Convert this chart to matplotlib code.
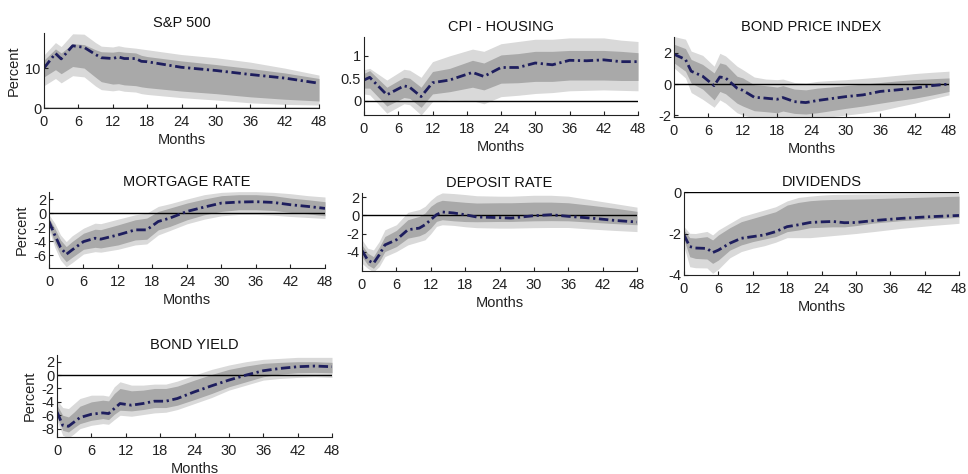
import matplotlib
matplotlib.use("Agg")
import matplotlib.pyplot as plt
from matplotlib.ticker import FormatStrFormatter

plt.rcParams['font.family'] = ['Liberation Sans', 'DejaVu Sans']
plt.rcParams['font.size'] = 10.5

# ==========================================
# DATA
# median response + 68% (inner) and 90% (outer) bands
# ==========================================
SP_X = [0, 2, 3, 5, 7, 9, 10, 12, 13, 14, 16, 17, 18, 24, 30, 36, 42, 48]
SP_MED = [10, 13.7, 12.3, 15.6, 15.2, 13.4, 12.6, 12.4, 12.8, 12.4, 12.4, 11.7, 11.6, 10.2, 9.4, 8.4, 7.5, 6.2]
SP_IN_HI = [12, 14.8, 13.8, 16.1, 15.9, 14.6, 14.1, 14, 14.2, 14, 13.8, 13.2, 12.9, 11.8, 10.9, 9.9, 8.8, 7.4]
SP_IN_LO = [7.8, 9.6, 8.6, 10.4, 10, 7.7, 6.6, 6, 6.1, 5.8, 5.6, 5.3, 5.1, 4.25, 3.6, 2.8, 2.2, 1.75]
SP_OUT_HI = [13.3, 16.4, 15.4, 18.6, 18.5, 16.4, 15.5, 15.3, 15.6, 15.3, 15, 14.8, 14.6, 13.4, 12.6, 11.5, 10, 8.25]
SP_OUT_LO = [5.6, 7.4, 6.3, 8.1, 7.8, 5.5, 4.6, 4.3, 4.5, 4.2, 4, 3.6, 3.4, 2.6, 2.0, 1.3, 0.9, 0.75]

CPI_X = [0, 1, 4, 7, 8, 10, 12, 15, 19, 21, 24, 27, 30, 33, 36, 39, 42, 45, 48]
CPI_MED = [0.46, 0.52, 0.13, 0.33, 0.30, 0.09, 0.40, 0.46, 0.63, 0.54, 0.74, 0.74, 0.84, 0.80, 0.90, 0.89, 0.91, 0.87, 0.87]
CPI_IN_HI = [0.61, 0.67, 0.30, 0.52, 0.50, 0.30, 0.65, 0.72, 0.90, 0.84, 1.02, 1.05, 1.10, 1.10, 1.12, 1.12, 1.12, 1.10, 1.07]
CPI_IN_LO = [0.28, 0.28, -0.12, 0.07, 0.05, -0.15, 0.15, 0.20, 0.30, 0.24, 0.39, 0.40, 0.43, 0.43, 0.46, 0.46, 0.46, 0.45, 0.45]
CPI_OUT_HI = [0.69, 0.72, 0.46, 0.70, 0.68, 0.52, 0.87, 1.00, 1.15, 1.10, 1.27, 1.32, 1.37, 1.37, 1.40, 1.40, 1.40, 1.35, 1.32]
CPI_OUT_LO = [0.15, 0.13, -0.28, -0.07, -0.09, -0.32, -0.02, 0.01, 0.0, -0.07, 0.09, 0.12, 0.16, 0.18, 0.22, 0.23, 0.24, 0.23, 0.22]

BP_X = [0, 2, 3, 5, 7, 8, 9, 11, 12, 14, 16, 18, 19, 21, 23, 25, 27, 30, 33, 36, 39, 42, 45, 48]
BP_MED = [1.9, 1.57, 0.82, 0.5, -0.1, 0.45, 0.39, -0.26, -0.4, -0.84, -0.9, -0.97, -0.86, -1.12, -1.18, -1.05, -0.95, -0.8, -0.69, -0.47, -0.37, -0.26, -0.1, 0.0]
BP_IN_HI = [2.54, 2.26, 1.57, 1.25, 0.71, 1.35, 1.25, 0.5, 0.39, -0.04, -0.1, -0.19, -0.1, -0.32, -0.37, -0.26, -0.2, -0.1, 0.0, 0.1, 0.2, 0.28, 0.34, 0.39]
BP_IN_LO = [1.35, 0.82, 0.06, -0.32, -1.01, -0.47, -0.62, -1.22, -1.4, -1.7, -1.76, -1.83, -1.72, -1.87, -1.91, -1.83, -1.72, -1.55, -1.4, -1.22, -1.05, -0.9, -0.7, -0.47]
BP_OUT_HI = [3.03, 2.86, 2.1, 1.83, 1.14, 1.96, 1.79, 1.14, 0.92, 0.45, 0.32, 0.28, 0.32, 0.1, 0.06, 0.17, 0.22, 0.28, 0.36, 0.45, 0.56, 0.67, 0.75, 0.82]
BP_OUT_LO = [1.03, 0.39, -0.54, -0.97, -1.48, -1.01, -1.22, -1.83, -1.98, -2.15, -2.2, -2.2, -2.15, -2.2, -2.2, -2.2, -2.1, -1.98, -1.85, -1.7, -1.45, -1.22, -0.95, -0.69]

MR_X = [0, 1, 2, 3, 4, 6, 8, 9, 12, 15, 17, 19, 21, 24, 27, 30, 33, 36, 39, 42, 45, 48]
MR_MED = [-1.2, -3.1, -4.86, -5.86, -5.24, -4.05, -3.57, -3.7, -3.1, -2.38, -2.38, -1.19, -0.71, 0.24, 0.86, 1.43, 1.57, 1.62, 1.52, 1.19, 0.95, 0.67]
MR_IN_HI = [-0.71, -2.14, -3.81, -4.76, -4.05, -2.86, -2.29, -2.35, -1.67, -0.95, -0.71, 0.24, 0.71, 1.43, 2.0, 2.48, 2.62, 2.62, 2.48, 2.14, 1.9, 1.62]
MR_IN_LO = [-1.9, -4.19, -5.95, -6.9, -6.29, -5.14, -4.86, -4.95, -4.52, -3.81, -3.71, -2.38, -1.9, -0.95, -0.24, 0.24, 0.48, 0.48, 0.38, 0.1, -0.1, -0.38]
MR_OUT_HI = [-0.24, -1.43, -3.1, -4.05, -3.24, -2.14, -1.43, -1.5, -0.86, -0.24, 0.0, 0.95, 1.33, 2.0, 2.62, 2.95, 3.05, 3.05, 2.95, 2.76, 2.48, 2.29]
MR_OUT_LO = [-2.38, -4.86, -6.67, -7.62, -7.05, -5.81, -5.48, -5.55, -5.14, -4.52, -4.38, -3.1, -2.48, -1.52, -0.86, -0.38, -0.19, -0.19, -0.29, -0.48, -0.62, -0.76]

DR_X = [0, 1, 2, 3, 4, 6, 8, 10, 11, 12, 13, 14, 16, 18, 20, 24, 26, 30, 33, 36, 40, 44, 48]
DR_MED = [-3.86, -4.9, -5.26, -4.34, -3.24, -2.68, -1.58, -1.4, -1.03, -0.48, 0.07, 0.37, 0.26, 0.07, -0.18, -0.25, -0.3, -0.04, 0.07, -0.11, -0.3, -0.55, -0.73]
DR_IN_HI = [-3.24, -4.15, -4.52, -3.49, -2.32, -1.65, -0.48, -0.11, 0.26, 0.99, 1.43, 1.65, 1.54, 1.43, 1.35, 1.38, 1.38, 1.45, 1.45, 1.38, 1.1, 0.8, 0.44]
DR_IN_LO = [-4.52, -5.44, -5.81, -5.07, -3.97, -3.42, -2.5, -2.24, -1.95, -1.4, -0.66, -0.48, -0.6, -0.68, -0.7, -0.67, -0.67, -0.6, -0.58, -0.6, -0.75, -0.9, -1.03]
DR_OUT_HI = [-2.68, -3.6, -3.79, -2.87, -1.58, -1.03, 0.33, 0.63, 0.99, 1.65, 2.17, 2.46, 2.39, 2.28, 2.15, 2.1, 2.1, 2.2, 2.2, 2.1, 1.7, 1.3, 0.9]
DR_OUT_LO = [-5.26, -5.81, -6.2, -5.62, -4.52, -3.97, -3.24, -2.87, -2.68, -2.02, -1.21, -1.03, -1.1, -1.25, -1.35, -1.4, -1.4, -1.35, -1.33, -1.33, -1.5, -1.65, -1.78]

DV_X = [0, 1, 2, 4, 5, 6, 8, 10, 12, 14, 16, 18, 20, 22, 24, 26, 28, 30, 33, 38, 43, 48]
DV_MED = [-2.07, -2.63, -2.7, -2.72, -2.92, -2.8, -2.47, -2.23, -2.15, -2.07, -1.91, -1.67, -1.58, -1.47, -1.44, -1.42, -1.48, -1.47, -1.38, -1.27, -1.19, -1.13]
DV_IN_HI = [-1.83, -2.2, -2.22, -2.15, -2.31, -2.07, -1.72, -1.43, -1.27, -1.11, -0.95, -0.63, -0.5, -0.42, -0.38, -0.36, -0.35, -0.34, -0.32, -0.28, -0.24, -0.2]
DV_IN_LO = [-2.31, -3.12, -3.2, -3.23, -3.44, -3.28, -2.8, -2.55, -2.39, -2.27, -2.15, -1.91, -1.83, -1.72, -1.7, -1.68, -1.68, -1.62, -1.5, -1.38, -1.3, -1.22]
DV_OUT_HI = [-1.67, -1.99, -2.0, -1.9, -2.07, -1.83, -1.51, -1.19, -1.03, -0.87, -0.71, -0.43, -0.26, -0.2, -0.15, -0.12, -0.11, -0.1, -0.09, -0.08, -0.07, -0.06]
DV_OUT_LO = [-2.63, -3.6, -3.65, -3.66, -3.92, -3.72, -3.17, -2.87, -2.71, -2.59, -2.42, -2.2, -2.2, -2.2, -2.15, -2.1, -2.05, -2.0, -1.91, -1.75, -1.62, -1.51]

BY_X = [0, 1, 2, 3, 4, 6, 8, 9, 10, 11, 13, 15, 17, 19, 21, 24, 27, 30, 33, 36, 39, 42, 45, 48]
BY_MED = [-5.5, -7.5, -7.65, -7.0, -6.35, -5.85, -5.65, -5.75, -5.0, -4.25, -4.5, -4.25, -3.9, -3.9, -3.5, -2.5, -1.6, -0.75, 0.0, 0.65, 1.0, 1.25, 1.35, 1.25]
BY_IN_HI = [-4.5, -6.0, -6.25, -5.5, -4.65, -4.0, -3.75, -3.85, -2.75, -2.0, -2.35, -2.25, -2.0, -2.0, -1.65, -0.75, 0.1, 0.85, 1.35, 1.75, 1.9, 2.0, 2.0, 1.9]
BY_IN_LO = [-6.25, -8.25, -8.5, -7.85, -7.25, -6.75, -6.5, -6.65, -5.85, -5.25, -5.35, -5.15, -4.85, -4.85, -4.5, -3.65, -2.75, -1.75, -1.0, -0.25, 0.15, 0.35, 0.4, 0.35]
BY_OUT_HI = [-3.75, -4.85, -5.0, -4.25, -3.5, -3.0, -3.0, -3.15, -1.75, -1.0, -1.5, -1.5, -1.35, -1.35, -0.9, 0.0, 0.85, 1.5, 2.0, 2.35, 2.5, 2.65, 2.65, 2.65]
BY_OUT_LO = [-6.75, -9.0, -9.4, -8.75, -8.0, -7.5, -7.25, -7.35, -6.65, -6.0, -6.15, -5.9, -5.65, -5.55, -5.15, -4.25, -3.35, -2.25, -1.5, -0.75, -0.5, -0.35, -0.25, -0.35]

TITLES = ["S&P 500", "CPI - HOUSING", "BOND PRICE INDEX", "MORTGAGE RATE",
          "DEPOSIT RATE", "DIVIDENDS", "BOND YIELD"]
X_TICKS = [0, 6, 12, 18, 24, 30, 36, 42, 48]

# ==========================================
# LAYOUT (pixel boxes: left, top, right, bottom) + y-axis setup
# ==========================================
W, H = 968, 474
panels = [
    (SP_X, SP_MED, SP_IN_LO, SP_IN_HI, SP_OUT_LO, SP_OUT_HI, (44, 33, 319, 108), (0, 18.8), [0, 10], True),
    (CPI_X, CPI_MED, CPI_IN_LO, CPI_IN_HI, CPI_OUT_LO, CPI_OUT_HI, (364, 37, 638, 115), (-0.32, 1.42), [0, 0.5, 1], False),
    (BP_X, BP_MED, BP_IN_LO, BP_IN_HI, BP_OUT_LO, BP_OUT_HI, (674, 37, 949, 117), (-2.1, 3.0), [-2, 0, 2], False),
    (MR_X, MR_MED, MR_IN_LO, MR_IN_HI, MR_OUT_LO, MR_OUT_HI, (49, 192, 325, 268), (-7.8, 3.0), [-6, -4, -2, 0, 2], True),
    (DR_X, DR_MED, DR_IN_LO, DR_IN_HI, DR_OUT_LO, DR_OUT_HI, (362, 193, 637, 271), (-6.1, 2.45), [-4, -2, 0, 2], False),
    (DV_X, DV_MED, DV_IN_LO, DV_IN_HI, DV_OUT_LO, DV_OUT_HI, (684, 192, 959, 275), (-4, 0), [-4, -2, 0], False),
    (BY_X, BY_MED, BY_IN_LO, BY_IN_HI, BY_OUT_LO, BY_OUT_HI, (57, 355, 332, 437), (-9.25, 3.0), [-8, -6, -4, -2, 0, 2], True),
]

fig = plt.figure(figsize=(W / 100, H / 100), dpi=100)

for title, (x, med, ilo, ihi, olo, ohi, box, ylim, yticks, ylab) in zip(TITLES, panels):
    l, t, r, b = box
    ax = fig.add_axes([l / W, 1 - b / H, (r - l) / W, (b - t) / H])
    ax.fill_between(x, olo, ohi, color="#d9d9d9", lw=0)
    ax.fill_between(x, ilo, ihi, color="#a9a9a9", lw=0)
    ax.axhline(0, color="black", lw=1)
    ax.plot(x, med, color="#1e1e5e", lw=2, linestyle=(0, (3.4, 1.3, 0.8, 1.3)))

    ax.set_xlim(0, 48)
    ax.set_ylim(*ylim)
    ax.set_xticks(X_TICKS)
    ax.set_yticks(yticks)
    ax.yaxis.set_major_formatter(FormatStrFormatter("%g"))
    ax.tick_params(direction="in", length=3, colors="#222222", labelsize=10.5)
    ax.tick_params(axis="x", pad=5)
    ax.tick_params(axis="y", pad=2)
    for side in ["top", "right"]:
        ax.spines[side].set_visible(False)
    for side in ["left", "bottom"]:
        ax.spines[side].set_color("#222222")
        ax.spines[side].set_linewidth(0.8)
    ax.set_title(title, fontsize=10.5, pad=4, color="#111111")
    ax.set_xlabel("Months", fontsize=10.5, labelpad=3, color="#222222")
    if ylab:
        ax.set_ylabel("Percent", fontsize=10.5, labelpad=3, color="#222222")

plt.savefig("out.png", dpi=100)
